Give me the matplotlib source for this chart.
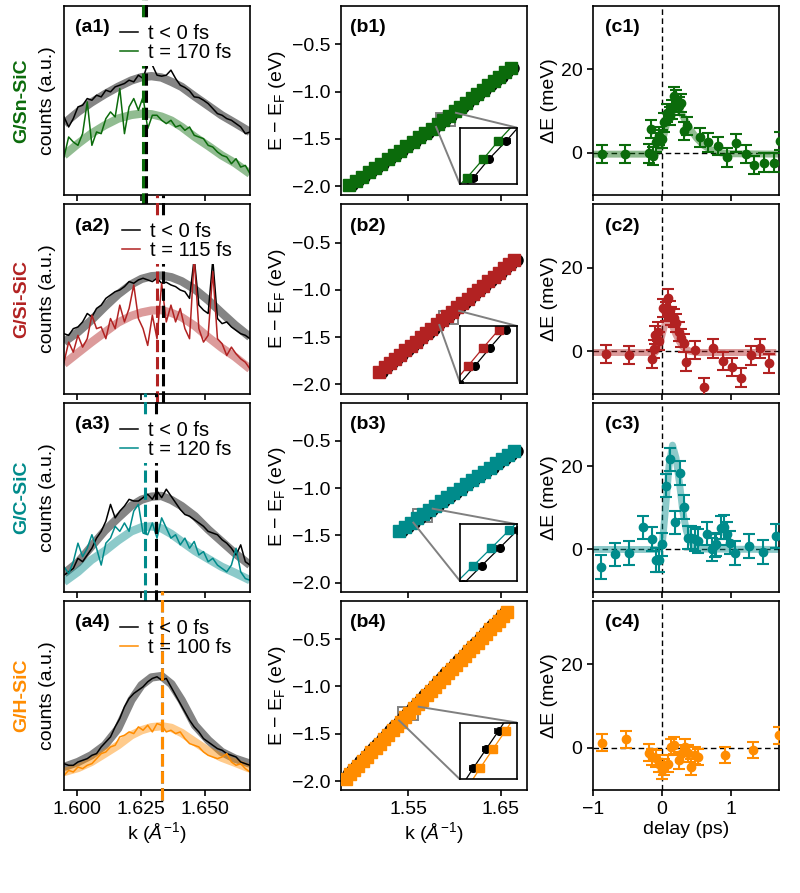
import numpy as np
import matplotlib
matplotlib.use('Agg')
import matplotlib.pyplot as plt
from mpl_toolkits.axes_grid1.inset_locator import mark_inset

plt.rcParams['font.family'] = ['Liberation Sans', 'DejaVu Sans']
plt.rcParams['mathtext.fontset'] = 'custom'
plt.rcParams['mathtext.rm'] = 'Liberation Sans'
plt.rcParams['mathtext.it'] = 'Liberation Sans:italic'
plt.rcParams['mathtext.bf'] = 'Liberation Sans:bold'
plt.rcParams['font.size'] = 14
plt.rcParams['axes.linewidth'] = 1.2
plt.rcParams['xtick.major.width'] = 1.2
plt.rcParams['ytick.major.width'] = 1.2
plt.rcParams['xtick.major.size'] = 4
plt.rcParams['ytick.major.size'] = 4

# ---------------- data ----------------
samples = ['G/Sn-SiC', 'G/Si-SiC', 'G/C-SiC', 'G/H-SiC']
colors = ['#0b6b0b', '#b22222', '#008b8b', '#ff8c00']
delays_fs = [170, 115, 120, 100]

# (a) MDC raw data, 41 points on a uniform k grid
k_raw_min, k_raw_max = 1.5949, 1.6678
a_ylim = [567, 564, 562, 567]
a1_neg = [235, 205, 230, 265, 270, 290, 285, 300, 295, 315, 310, 325, 330, 335, 345, 340, 360, 350, 395, 390,
          360, 357, 360, 375, 350, 330, 323, 313, 295, 293, 285, 275, 260, 245, 240, 230, 225, 215, 205, 185, 190]
a1_pos = [115, 175, 160, 150, 185, 280, 150, 190, 185, 230, 250, 235, 320, 185, 265, 290, 255, 295, 200, 240,
          240, 225, 215, 225, 205, 210, 195, 205, 180, 175, 170, 150, 145, 130, 120, 115, 95, 110, 85, 90, 65]
a2_neg = [179, 174, 194, 199, 214, 239, 229, 254, 264, 284, 294, 304, 309, 319, 334, 329, 339, 344, 339, 334,
          344, 329, 332, 324, 319, 309, 304, 284, 404, 264, 249, 239, 399, 224, 209, 214, 199, 189, 179, 174, 164]
a2_pos = [94, 154, 124, 174, 139, 164, 234, 194, 199, 164, 224, 194, 264, 214, 254, 324, 224, 194, 144, 234,
          164, 329, 214, 264, 214, 254, 194, 164, 404, 194, 154, 174, 364, 164, 149, 114, 139, 119, 104, 94, 74]
a3_neg = [50, 60, 70, 100, 90, 110, 130, 160, 180, 210, 260, 220, 240, 255, 275, 270, 270, 280, 290, 275,
          300, 280, 305, 285, 265, 245, 230, 225, 215, 205, 195, 180, 175, 170, 155, 145, 130, 110, 140, 90, 80]
a3_pos = [75, 55, 90, 145, 105, 130, 170, 130, 80, 145, 160, 195, 180, 205, 180, 240, 260, 175, 170, 205,
          160, 220, 190, 160, 170, 140, 160, 130, 150, 110, 120, 90, 100, 80, 70, 60, 80, 130, 60, 40, 35]
a4_neg = [80, 75, 75, 85, 90, 95, 105, 110, 130, 145, 160, 190, 215, 250, 275, 290, 300, 310, 325, 335,
          340, 330, 335, 310, 285, 260, 235, 210, 190, 175, 155, 145, 135, 125, 120, 110, 105, 100, 85, 80, 75]
a4_pos = [45, 60, 55, 70, 65, 75, 80, 95, 110, 115, 130, 135, 160, 165, 175, 170, 190, 180, 195, 175,
          200, 195, 175, 180, 170, 175, 155, 140, 135, 130, 115, 105, 100, 95, 100, 110, 85, 75, 80, 65, 55]
a_raw_neg = [a1_neg, a2_neg, a3_neg, a4_neg]
a_raw_pos = [a1_pos, a2_pos, a3_pos, a4_pos]

# (a) fitted MDC curves, sampled
k_fit = [1.5949, 1.6004, 1.6056, 1.6109, 1.6161, 1.6213, 1.6253, 1.6292,
         1.6331, 1.6370, 1.6410, 1.6462, 1.6515, 1.6567, 1.6619, 1.6678]
a1_fit_neg = [215, 250, 278, 303, 325, 344, 354, 357, 353, 340, 325, 296, 268, 240, 217, 190]
a1_fit_pos = [120, 155, 185, 210, 230, 241, 245, 243, 236, 224, 205, 175, 148, 120, 97, 65]
a2_fit_neg = [154, 184, 219, 259, 296, 326, 342, 350, 352, 347, 335, 311, 278, 241, 205, 169]
a2_fit_pos = [89, 122, 153, 183, 212, 232, 242, 248, 249, 241, 228, 202, 168, 137, 110, 74]
a3_fit_neg = [55, 88, 135, 182, 220, 256, 274, 283, 285, 273, 255, 225, 185, 150, 115, 80]
a3_fit_pos = [30, 60, 95, 122, 153, 180, 192, 195, 189, 172, 150, 122, 98, 75, 57, 35]
a4_fit_neg = [70, 85, 105, 135, 185, 270, 315, 338, 342, 318, 270, 195, 150, 115, 95, 80]
a4_fit_pos = [55, 67, 85, 110, 135, 165, 180, 189, 192, 187, 172, 145, 118, 98, 83, 65]
a_fit_neg = [a1_fit_neg, a2_fit_neg, a3_fit_neg, a4_fit_neg]
a_fit_pos = [a1_fit_pos, a2_fit_pos, a3_fit_pos, a4_fit_pos]

# peak positions (dashed lines)
kpeak_neg = [1.6272, 1.6338, 1.6308, 1.6334]
kpeak_pos = [1.6259, 1.6314, 1.6266, 1.6334]

# (b) dispersions
b1_E = [-1.992, -1.946, -1.900, -1.854, -1.808, -1.762, -1.716, -1.670, -1.624, -1.578, -1.532, -1.486, -1.440, -1.394,
        -1.348, -1.302, -1.256, -1.210, -1.164, -1.118, -1.072, -1.026, -0.980, -0.934, -0.888, -0.842, -0.796, -0.750]
b1_k_neg = [1.4886, 1.4955, 1.5022, 1.5092, 1.5160, 1.5228, 1.5300, 1.5362, 1.5432, 1.5500, 1.5570, 1.5640, 1.5708, 1.5778,
            1.5845, 1.5901, 1.5966, 1.6025, 1.6088, 1.6148, 1.6210, 1.6270, 1.6330, 1.6390, 1.6452, 1.6510, 1.6572, 1.6632]
b1_k_pos = [1.4862, 1.4930, 1.4998, 1.5068, 1.5137, 1.5203, 1.5278, 1.5340, 1.5406, 1.5476, 1.5547, 1.5615, 1.5685, 1.5752,
            1.5821, 1.5880, 1.5937, 1.6000, 1.6064, 1.6125, 1.6186, 1.6247, 1.6306, 1.6366, 1.6430, 1.6487, 1.6548, 1.6608]
b2_E = [-1.866, -1.820, -1.775, -1.729, -1.684, -1.638, -1.593, -1.547, -1.502, -1.456, -1.411, -1.365, -1.320, -1.274,
        -1.229, -1.183, -1.138, -1.092, -1.047, -1.001, -0.956, -0.910, -0.865, -0.819, -0.774, -0.728, -0.683]
b2_k_neg = [1.5211, 1.5268, 1.5324, 1.5380, 1.5436, 1.5493, 1.5548, 1.5605, 1.5662, 1.5718, 1.5773, 1.5830, 1.5886, 1.5942,
            1.5999, 1.6055, 1.6110, 1.6168, 1.6223, 1.6280, 1.6335, 1.6392, 1.6448, 1.6505, 1.6560, 1.6617, 1.6673]
b2_k_pos = [1.5186, 1.5243, 1.5299, 1.5355, 1.5411, 1.5468, 1.5523, 1.5580, 1.5637, 1.5693, 1.5748, 1.5805, 1.5861, 1.5917,
            1.5974, 1.6030, 1.6085, 1.6143, 1.6198, 1.6255, 1.6310, 1.6367, 1.6423, 1.6480, 1.6535, 1.6592, 1.6648]
b3_E = [-1.453, -1.408, -1.364, -1.319, -1.275, -1.230, -1.185, -1.141, -1.096, -1.052,
        -1.007, -0.962, -0.918, -0.873, -0.829, -0.784, -0.739, -0.695, -0.650, -0.606]
b3_k_neg = [1.5428, 1.5494, 1.5559, 1.5625, 1.5690, 1.5756, 1.5822, 1.5887, 1.5953, 1.6018,
            1.6084, 1.6150, 1.6215, 1.6281, 1.6346, 1.6412, 1.6478, 1.6543, 1.6609, 1.6673]
b3_k_pos = [1.5398, 1.5464, 1.5529, 1.5595, 1.5660, 1.5726, 1.5792, 1.5857, 1.5923, 1.5988,
            1.6054, 1.6120, 1.6185, 1.6251, 1.6316, 1.6382, 1.6448, 1.6513, 1.6579, 1.6643]
b4_E = [-1.975, -1.929, -1.882, -1.836, -1.789, -1.743, -1.697, -1.650, -1.604, -1.557, -1.511, -1.465, -1.418,
        -1.372, -1.325, -1.279, -1.233, -1.186, -1.140, -1.093, -1.047, -1.001, -0.954, -0.908, -0.861, -0.815,
        -0.769, -0.722, -0.676, -0.629, -0.583, -0.537, -0.490, -0.444, -0.397, -0.351, -0.305, -0.258, -0.211]
b4_k_neg = [1.4796, 1.4842, 1.4888, 1.4934, 1.4980, 1.5026, 1.5072, 1.5119, 1.5165, 1.5211, 1.5257, 1.5303, 1.5349,
            1.5395, 1.5441, 1.5487, 1.5534, 1.5580, 1.5626, 1.5672, 1.5718, 1.5764, 1.5810, 1.5856, 1.5902, 1.5949,
            1.5995, 1.6041, 1.6087, 1.6133, 1.6179, 1.6225, 1.6271, 1.6317, 1.6364, 1.6410, 1.6456, 1.6502, 1.6548]
b4_k_pos = [1.4821, 1.4867, 1.4913, 1.4959, 1.5005, 1.5051, 1.5097, 1.5144, 1.5190, 1.5236, 1.5282, 1.5328, 1.5374,
            1.5420, 1.5466, 1.5512, 1.5559, 1.5605, 1.5651, 1.5697, 1.5743, 1.5789, 1.5835, 1.5881, 1.5927, 1.5974,
            1.6020, 1.6066, 1.6112, 1.6158, 1.6204, 1.6250, 1.6296, 1.6342, 1.6389, 1.6435, 1.6481, 1.6527, 1.6573]
b_E = [b1_E, b2_E, b3_E, b4_E]
b_k_neg = [b1_k_neg, b2_k_neg, b3_k_neg, b4_k_neg]
b_k_pos = [b1_k_pos, b2_k_pos, b3_k_pos, b4_k_pos]
b_kerr = 0.0012
# inset windows (k range, E range)
inset_k = [(1.5796, 1.6005), (1.5832, 1.6040), (1.5547, 1.5753), (1.5392, 1.5601)]
inset_E = [(-1.3645, -1.223), (-1.362, -1.220), (-1.357, -1.216), (-1.353, -1.213)]

# (c) energy shift vs delay
c1_t = [-0.874, -0.534, -0.194, -0.160, -0.136, -0.087, -0.039, 0.000, 0.034, 0.068, 0.107, 0.146, 0.165, 0.204,
        0.243, 0.277, 0.311, 0.359, 0.544, 0.665, 0.801, 0.932, 1.068, 1.209, 1.335, 1.476, 1.612, 1.700]
c1_dE = [-0.3, -0.2, -0.1, 5.7, -0.7, 2.5, 4.1, 3.3, 7.3, 9.6, 8.8, 10.4, 13.6, 12.8,
         11.2, 12.0, 5.3, 6.5, 3.7, 2.5, 1.7, -1.1, 2.3, -0.3, -2.9, -2.3, -2.3, 2.9]
c2_t = [-0.816, -0.485, -0.150, -0.112, -0.097, -0.063, -0.039, 0.010, 0.049, 0.083, 0.107, 0.131, 0.165, 0.204,
        0.238, 0.277, 0.311, 0.350, 0.481, 0.607, 0.738, 0.874, 1.015, 1.146, 1.282, 1.417, 1.549]
c2_dE = [-0.7, -0.9, -1.8, 0.6, 3.9, 4.7, 2.5, 10.3, 9.5, 12.7, 9.9, 8.4, 7.9, 6.7,
         4.7, 3.1, 1.9, -2.5, 0.3, -8.5, 0.7, -2.3, -3.7, -6.3, -1.0, 0.7, -2.9]
c3_t = [-0.888, -0.680, -0.485, -0.272, -0.146, -0.087, -0.039, -0.005, 0.058, 0.117, 0.180, 0.252, 0.316, 0.374,
        0.422, 0.471, 0.519, 0.655, 0.728, 0.762, 0.786, 0.845, 0.893, 0.932, 0.981, 1.053, 1.257, 1.456, 1.650]
c3_dE = [-4.2, -1.2, -0.8, 5.3, 2.5, -2.5, -2.5, 1.2, 15.3, 21.6, 6.5, 18.3, 10.2, 2.8,
         2.8, 2.5, 2.0, 3.8, 0.0, 1.0, 1.2, 5.2, 5.4, 3.8, 1.6, -0.8, 0.8, -0.6, 3.2]
c4_t = [-0.864, -0.524, -0.194, -0.146, -0.087, -0.039, -0.005, 0.034, 0.083, 0.131, 0.165, 0.243, 0.277, 0.325,
        0.374, 0.422, 0.471, 0.519, 0.908, 1.311, 1.684]
c4_dE = [1.2, 2.0, -1.2, -2.2, -2.5, -3.8, -5.4, -4.6, -3.8, 0.2, 0.6, -3.0, -1.4, 0.2,
         -1.3, -4.6, -1.8, -2.2, -1.7, -0.5, 3.0]
c_t = [c1_t, c2_t, c3_t, c4_t]
c_dE = [c1_dE, c2_dE, c3_dE, c4_dE]
c_err = [2.2, 2.2, 2.8, 2.0]

# (c) fitted curves, sampled
c1_fit_t = [-1.0, -0.10, -0.05, 0.00, 0.05, 0.10, 0.15, 0.20, 0.25, 0.30, 0.40, 0.50, 0.60, 0.70, 0.85, 1.00, 1.70]
c1_fit_dE = [-0.3, -0.3, 0.5, 2.5, 6.0, 9.0, 10.5, 10.8, 10.2, 8.8, 5.8, 3.5, 1.8, 0.8, 0.0, -0.2, -0.3]
c2_fit_t = [-1.0, -0.10, -0.05, 0.00, 0.05, 0.10, 0.15, 0.20, 0.25, 0.30, 0.40, 0.50, 1.60]
c2_fit_dE = [-0.3, -0.3, 0.8, 4.0, 7.0, 7.5, 6.0, 4.0, 2.3, 1.0, 0.0, -0.3, -0.3]
c3_fit_t = [-1.0, -0.05, 0.00, 0.05, 0.10, 0.15, 0.20, 0.25, 0.30, 0.35, 0.40, 0.50, 0.60, 1.70]
c3_fit_dE = [0.0, 0.0, 1.0, 10.0, 20.0, 25.0, 22.0, 16.0, 9.0, 4.5, 2.0, 0.5, 0.1, 0.0]
c_fit_t = [c1_fit_t, c2_fit_t, c3_fit_t, None]
c_fit_dE = [c1_fit_dE, c2_fit_dE, c3_fit_dE, None]

# ---------------- layout ----------------
fig = plt.figure(figsize=(8.0, 8.93), dpi=100)
col_left = [0.080, 0.42625, 0.74125]
col_w = 0.2325
row_bottom = [0.7811, 0.5590, 0.3370, 0.1149]
row_h = 0.2122

k_raw = np.linspace(k_raw_min, k_raw_max, len(a1_neg))

for r in range(4):
    col = colors[r]
    # ---------- (a) ----------
    ax = fig.add_axes([col_left[0], row_bottom[r], col_w, row_h])
    ax.plot(k_fit, a_fit_neg[r], color='#6e6e6e', lw=6, alpha=0.85, solid_capstyle='butt')
    ax.plot(k_fit, a_fit_pos[r], color=col, lw=6, alpha=0.45, solid_capstyle='butt')
    ax.plot(k_raw, a_raw_neg[r], color='black', lw=1.1, label='t < 0 fs')
    ax.plot(k_raw, a_raw_pos[r], color=col, lw=1.1, label='t = %d fs' % delays_fs[r])
    ax.axvline(kpeak_neg[r], ymin=-0.05, ymax=1.05, color='black', lw=2.2, ls=(0, (4, 1.6)), clip_on=False, zorder=2.5)
    ax.axvline(kpeak_pos[r], ymin=-0.05, ymax=1.05, color=col, lw=2.2, ls=(0, (4, 1.6)), clip_on=False, zorder=2.6)
    ax.set_xlim(k_raw_min, k_raw_max)
    ax.set_ylim(0, a_ylim[r])
    ax.set_yticks([])
    ax.set_xticks([1.600, 1.625, 1.650])
    ax.set_ylabel('counts (a.u.)', labelpad=6)
    opaque = r < 3
    leg = ax.legend(loc='upper right', frameon=opaque, handlelength=0.9, handletextpad=0.5,
                    labelspacing=0.0, borderpad=0.2, borderaxespad=0.7, fontsize=14.5,
                    facecolor='white', edgecolor='none', framealpha=1.0)
    leg.set_zorder(5)
    ax.text(0.06, 0.885, '(a%d)' % (r + 1), transform=ax.transAxes, fontweight='bold',
            va='center', ha='left', fontsize=14)
    fig.text(0.027, row_bottom[r] + row_h / 2, samples[r], color=col, fontweight='bold',
             rotation=90, va='center', ha='center', fontsize=14)
    if r == 3:
        ax.set_xticklabels(['1.600', '1.625', '1.650'])
        ax.set_xlabel(r'k ($\mathit{Å}^{-1}$)', labelpad=2)
    else:
        ax.set_xticklabels([])

    # ---------- (b) ----------
    bx = fig.add_axes([col_left[1], row_bottom[r], col_w, row_h])
    bx.errorbar(b_k_neg[r], b_E[r], xerr=b_kerr, fmt='o-', color='black', ms=8, lw=1.0,
                elinewidth=1.2, capsize=3, capthick=1.2, zorder=2)
    bx.errorbar(b_k_pos[r], b_E[r], xerr=b_kerr, fmt='s-', color=col, ms=8, lw=1.0,
                elinewidth=1.2, capsize=3, capthick=1.2, zorder=3)
    bx.set_xlim(1.477, 1.6785)
    bx.set_ylim(-2.099, -0.096)
    bx.set_xticks([1.55, 1.65])
    bx.set_yticks([-2.0, -1.5, -1.0, -0.5])
    bx.set_yticklabels(['\u22122.0', '\u22121.5', '\u22121.0', '\u22120.5'])
    bx.set_ylabel('E \u2212 E$_\\mathregular{F}$ (eV)', labelpad=3)
    bx.text(0.05, 0.885, '(b%d)' % (r + 1), transform=bx.transAxes, fontweight='bold',
            va='center', ha='left', fontsize=14)
    if r == 3:
        bx.set_xticklabels(['1.55', '1.65'])
        bx.set_xlabel(r'k ($\mathit{Å}^{-1}$)', labelpad=2)
    else:
        bx.set_xticklabels([])
    axin = bx.inset_axes([0.64, 0.058, 0.306, 0.30])
    axin.errorbar(b_k_neg[r], b_E[r], xerr=b_kerr, fmt='o-', color='black', ms=5.5, lw=0.9,
                  elinewidth=1.2, capsize=2.5, capthick=1.2)
    axin.errorbar(b_k_pos[r], b_E[r], xerr=b_kerr, fmt='s-', color=col, ms=5.5, lw=0.9,
                  elinewidth=1.2, capsize=2.5, capthick=1.2)
    axin.set_xlim(*inset_k[r])
    axin.set_ylim(*inset_E[r])
    axin.set_xticks([])
    axin.set_yticks([])
    for s in axin.spines.values():
        s.set_linewidth(1.2)
    mark_inset(bx, axin, loc1=1, loc2=3, fc='none', ec='#808080', lw=1.4)

    # ---------- (c) ----------
    cx = fig.add_axes([col_left[2], row_bottom[r], col_w, row_h])
    cx.axhline(0, color='black', lw=1.0, ls=(0, (4, 2.5)), zorder=1)
    cx.axvline(0, color='black', lw=1.0, ls=(0, (4, 2.5)), zorder=1)
    if c_fit_t[r] is not None:
        cx.plot(c_fit_t[r], c_fit_dE[r], color=col, lw=5, alpha=0.45, zorder=2)
    cx.errorbar(c_t[r], c_dE[r], yerr=c_err[r], fmt='o', color=col, ms=6,
                elinewidth=1.5, capsize=4, capthick=1.5, zorder=3)
    cx.set_xlim(-1.0, 1.69)
    cx.set_ylim(-10.2, 35.2)
    cx.set_xticks([-1, 0, 1])
    cx.set_yticks([0, 20])
    cx.set_ylabel('\u0394E (meV)', labelpad=2)
    cx.text(0.065, 0.885, '(c%d)' % (r + 1), transform=cx.transAxes, fontweight='bold',
            va='center', ha='left', fontsize=14)
    if r == 3:
        cx.set_xticklabels(['\u22121', '0', '1'])
        cx.set_xlabel('delay (ps)', labelpad=2)
    else:
        cx.set_xticklabels([])

fig.savefig('out.png', dpi=100)
